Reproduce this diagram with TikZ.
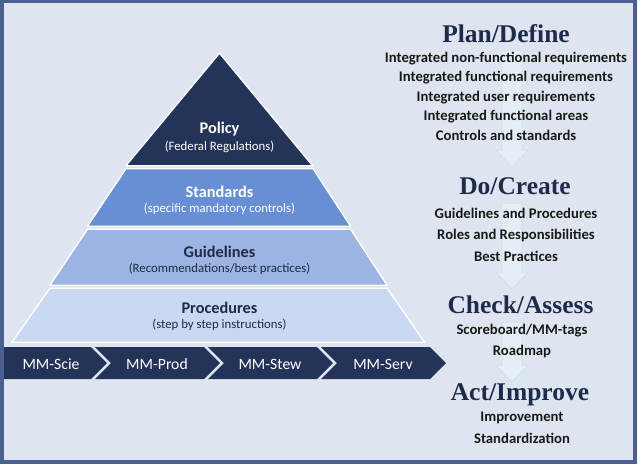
\documentclass[tikz,border=0pt]{standalone}
\usepackage{fontspec}
\setmainfont{Carlito}
\newfontfamily\headfont{Liberation Serif}
\definecolor{navy}{RGB}{36,52,88}
\definecolor{headblue}{RGB}{31,43,74}
\definecolor{stdblue}{RGB}{104,142,212}
\definecolor{guideblue}{RGB}{155,180,226}
\definecolor{procblue}{RGB}{201,217,241}
\definecolor{paper}{RGB}{223,229,240}
\definecolor{rim}{RGB}{75,96,145}
\definecolor{flowfill}{RGB}{228,238,245}
\definecolor{flowline}{RGB}{205,226,234}
\begin{document}
\begin{tikzpicture}[x=1pt,y=-1pt,
  tier/.style={draw=white,line width=1.3pt,line join=round},
  band/.style={fill=navy,draw=none},
  flow/.style={fill=flowfill,draw=flowline,line width=0.8pt},
  tiername/.style={font=\fontsize{16.3}{19}\selectfont\bfseries},
  tiersub/.style={font=\fontsize{12.8}{15}\selectfont},
  stage/.style={font=\fontsize{15.7}{18}\selectfont,text=white},
  head/.style={font=\headfont\fontsize{25.5}{29}\selectfont\bfseries,text=headblue},
  item/.style={font=\fontsize{14.7}{17}\selectfont\bfseries,text=black!90}]
\fill[white] (0,0) rectangle (640,464);
\draw[rim,line width=3.3pt,fill=paper] (2,1.5) rectangle (635,461.7);
\foreach \a/\b in {50/150,203/272,322/365}
  \draw[flow] (502,\a) -- (522,\a) -- (522,\b) -- (528,\b) -- (512,\b+17) -- (496,\b) -- (502,\b) -- cycle;
\filldraw[tier,fill=navy] (219.5,53) -- (312.5,165.5) -- (126,165.5) -- cycle;
\filldraw[tier,fill=stdblue] (126,168.5) -- (313,168.5) -- (350.5,226) -- (87.5,226) -- cycle;
\filldraw[tier,fill=guideblue] (87.5,229) -- (350.5,229) -- (387,285) -- (50,285) -- cycle;
\filldraw[tier,fill=procblue] (50,288) -- (387,288) -- (424.5,342) -- (12,342) -- cycle;
\node[tiername,text=white] (policy) at (219.5,129) {Policy};
\node[tiersub,text=white] (policy-sub) at (219.5,147) {(Federal Regulations)};
\node[tiername,text=white] (standards) at (219.5,191.5) {Standards};
\node[tiersub,text=white] (standards-sub) at (219.5,208.5) {(specific mandatory controls)};
\node[tiername,text=headblue] (guidelines) at (219.5,251.5) {Guidelines};
\node[tiersub,text=headblue] (guidelines-sub) at (219.5,268.5) {(Recommendations/best practices)};
\node[tiername,text=headblue] (procedures) at (219.5,307.5) {Procedures};
\node[tiersub,text=headblue] (procedures-sub) at (219.5,325) {(step by step instructions)};
\fill[band] (4,347) -- (91,347) -- (107,363) -- (91,379) -- (4,379) -- cycle;
\foreach \i in {1,2,3}
  \fill[band] (-18+113*\i,347) -- (91+113*\i,347) -- (107+113*\i,363) -- (91+113*\i,379) -- (-18+113*\i,379) -- (-2+113*\i,363) -- cycle;
\node[stage] (scie) at (51,364) {MM-Scie};
\node[stage] (prod) at (157,364) {MM-Prod};
\node[stage] (stew) at (270,364) {MM-Stew};
\node[stage] (serv) at (383,364) {MM-Serv};
\node[head] (plan) at (506,33) {Plan/Define};
\foreach \t/\y [count=\i] in {Integrated non-functional requirements/58.3,Integrated functional requirements/77.7,Integrated user requirements/97,Integrated functional areas/116.3,Controls and standards/135.7}
  \node[item] (plan\i) at (506,\y) {\t};
\node[head] (do) at (515,186.5) {Do/Create};
\foreach \t/\y [count=\i] in {Guidelines and Procedures/213.3,Roles and Responsibilities/235,Best Practices/256}
  \node[item] (do\i) at (516,\y) {\t};
\node[head] (check) at (520.5,305) {Check/Assess};
\foreach \t/\y [count=\i] in {{Scoreboard/MM-tags}/330,Roadmap/351}
  \node[item] (check\i) at (522,\y) {\t};
\node[head] (act) at (520,395) {Act/Improve};
\foreach \t/\y [count=\i] in {Improvement/417.7,Standardization/438.7}
  \node[item] (act\i) at (522,\y) {\t};
\end{tikzpicture}
\end{document}
